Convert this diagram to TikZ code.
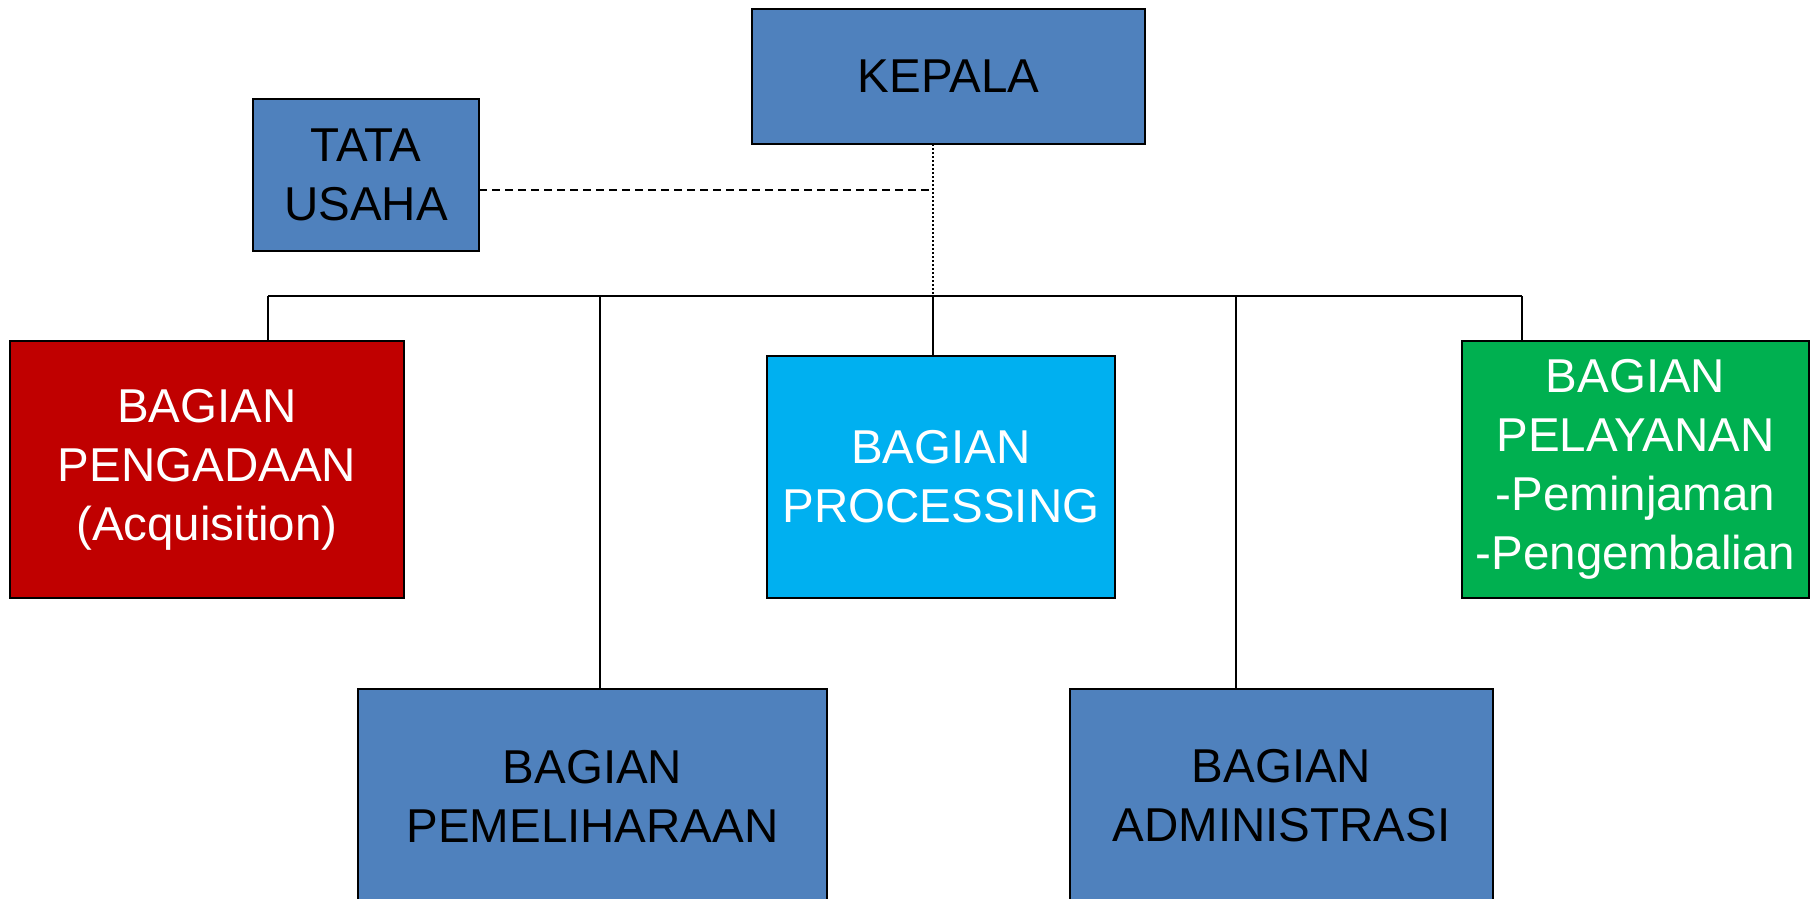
\documentclass[tikz,border=0pt]{standalone}
\usepackage{fontspec}
\setmainfont{Liberation Sans}
\definecolor{boxblue}{HTML}{4F81BD}
\definecolor{boxred}{HTML}{C00000}
\definecolor{boxcyan}{HTML}{00B0F0}
\definecolor{boxgreen}{HTML}{00B050}
\tikzset{
  unit/.style={draw=black, line width=1.8pt, inner sep=0pt, outer sep=0pt, align=center,
    font=\fontsize{47.5}{59}\selectfont},
  bluebox/.style={unit, fill=boxblue, text=black},
  redbox/.style={unit, fill=boxred, text=white},
  cyanbox/.style={unit, fill=boxcyan, text=white},
  greenbox/.style={unit, fill=boxgreen, text=white},
  busline/.style={line width=2.6pt},
  dropline/.style={line width=1.3pt},
  dotline/.style={line width=1.3pt, dash pattern=on 1.5pt off 2.5pt},
  dashline/.style={line width=1.6pt, dash pattern=on 8pt off 5pt},
}
\begin{document}
\begin{tikzpicture}[x=1pt, y=-1pt]
\useasboundingbox (0,0) rectangle (1811,898);
\clip (0,0) rectangle (1811,898);
\fill[white] (0,0) rectangle (1811,898);

\node[bluebox, minimum width=393pt, minimum height=135pt] (kepala) at (948.5,76.5) {KEPALA};
\node[bluebox, minimum width=226pt, minimum height=152pt] (tata) at (366,175) {TATA\\USAHA};
\node[redbox, minimum width=394pt, minimum height=257pt] (peng) at (207,469.5) {BAGIAN\\PENGADAAN\\(Acquisition)};
\node[cyanbox, minimum width=348pt, minimum height=242pt] (proc) at (941,477) {BAGIAN\\PROCESSING};
\node[greenbox, minimum width=347pt, minimum height=257pt] (pel) at (1635.5,469.5) {BAGIAN\\PELAYANAN\\-Peminjaman\\-Pengembalian};
\node[bluebox, minimum width=469pt, minimum height=214pt] (pem) at (592.5,796) {BAGIAN\\PEMELIHARAAN};
\node[bluebox, minimum width=423pt, minimum height=214pt] (adm) at (1281.5,796) {BAGIAN\\ADMINISTRASI};

\coordinate (b1) at (268,296);
\coordinate (b2) at (600,296);
\coordinate (b3) at (933,296);
\coordinate (b4) at (1236,296);
\coordinate (b5) at (1522,296);
\coordinate (dj) at (933,190);

\draw[dotline] (b3 |- kepala.south) -- (b3);
\draw[dashline] (dj -| tata.east) -- (dj);
\draw[busline] (b1) -- (b5);
\draw[dropline] (b1) -- (b1 |- peng.north);
\draw[dropline] (b2) -- (b2 |- pem.north);
\draw[dropline] (b3) -- (b3 |- proc.north);
\draw[dropline] (b4) -- (b4 |- adm.north);
\draw[dropline] (b5) -- (b5 |- pel.north);
\end{tikzpicture}
\end{document}
